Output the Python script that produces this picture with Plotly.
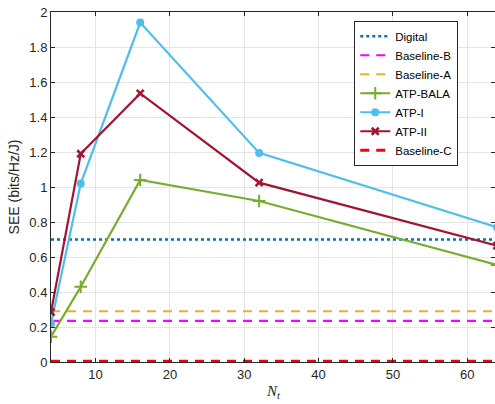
import plotly.graph_objects as go

Nt = [4, 8, 16, 32, 64]
atp_bala = [0.145, 0.43, 1.04, 0.92, 0.555]
atp_i = [0.22, 1.02, 1.94, 1.195, 0.77]
atp_ii = [0.285, 1.19, 1.535, 1.025, 0.665]
digital = 0.70
baseline_a = 0.29
baseline_b = 0.235
baseline_c = 0.005
x_span = [4, 64]

fig = go.Figure()

def hline(name, val, color, dash, width=2.2):
    fig.add_trace(go.Scatter(x=x_span, y=[val, val], mode="lines", name=name,
                             line=dict(color=color, dash=dash, width=width)))

hline("Digital", digital, "#0072BD", "dot", 2.5)
hline("Baseline-B", baseline_b, "#FF00FF", "9px,7px")
hline("Baseline-A", baseline_a, "#EDB120", "9px,7px")
fig.add_trace(go.Scatter(x=Nt, y=atp_bala, mode="lines+markers", name="ATP-BALA",
                         line=dict(color="#77AC30", width=2.2),
                         marker=dict(symbol="cross-thin-open", size=9,
                                     line=dict(color="#77AC30", width=2))))
fig.add_trace(go.Scatter(x=Nt, y=atp_i, mode="lines+markers", name="ATP-I",
                         line=dict(color="#4DBEEE", width=2.2),
                         marker=dict(symbol="circle", size=8, color="#4DBEEE")))
fig.add_trace(go.Scatter(x=Nt, y=atp_ii, mode="lines+markers", name="ATP-II",
                         line=dict(color="#A2142F", width=2.2),
                         marker=dict(symbol="x-thin-open", size=7,
                                     line=dict(color="#A2142F", width=2.5))))
hline("Baseline-C", baseline_c, "#FF0000", "9px,7px", 2.8)

axis_common = dict(showline=True, linecolor="#262626", linewidth=1, mirror="ticks",
                   ticks="inside", ticklen=4, tickcolor="#262626", automargin=False,
                   showgrid=True, gridcolor="#E5E5E5", gridwidth=1, zeroline=False,
                   tickfont=dict(family="Liberation Sans, Arial", size=13, color="#262626"))

fig.update_layout(
    width=495, height=404,
    margin=dict(l=51, r=0, t=12, b=42),
    paper_bgcolor="white", plot_bgcolor="white",
    font=dict(family="Liberation Sans, Arial", size=12, color="#262626"),
    xaxis=dict(range=[4, 63.74], tickvals=[10, 20, 30, 40, 50, 60],
               **axis_common),
    yaxis=dict(range=[0, 2], tickvals=[0, 0.2, 0.4, 0.6, 0.8, 1, 1.2, 1.4, 1.6, 1.8, 2],
               ticktext=["0", "0.2", "0.4", "0.6", "0.8", "1", "1.2", "1.4", "1.6", "1.8", "2"],
               title=dict(text="SEE (bits/Hz/J)", standoff=6, font=dict(size=14)),
               **axis_common),
    legend=dict(x=0.683, y=0.975, xanchor="left", yanchor="top",
                bgcolor="white", bordercolor="#262626", borderwidth=1,
                font=dict(family="Liberation Sans, Arial", size=11.5, color="#000000"),
                tracegroupgap=0, itemwidth=30),
    showlegend=True,
    annotations=[dict(text="<i>N</i><sub><i>t</i></sub>", x=0.5, y=-0.055,
                      xref="paper", yref="paper", xanchor="center", yanchor="top",
                      showarrow=False,
                      font=dict(family="Liberation Serif, Times New Roman", size=15,
                                color="#262626"))],
)

fig.write_html("out.html", config={"displayModeBar": False},
               post_script="document.body.style.margin='0';document.body.style.overflow='hidden';")
